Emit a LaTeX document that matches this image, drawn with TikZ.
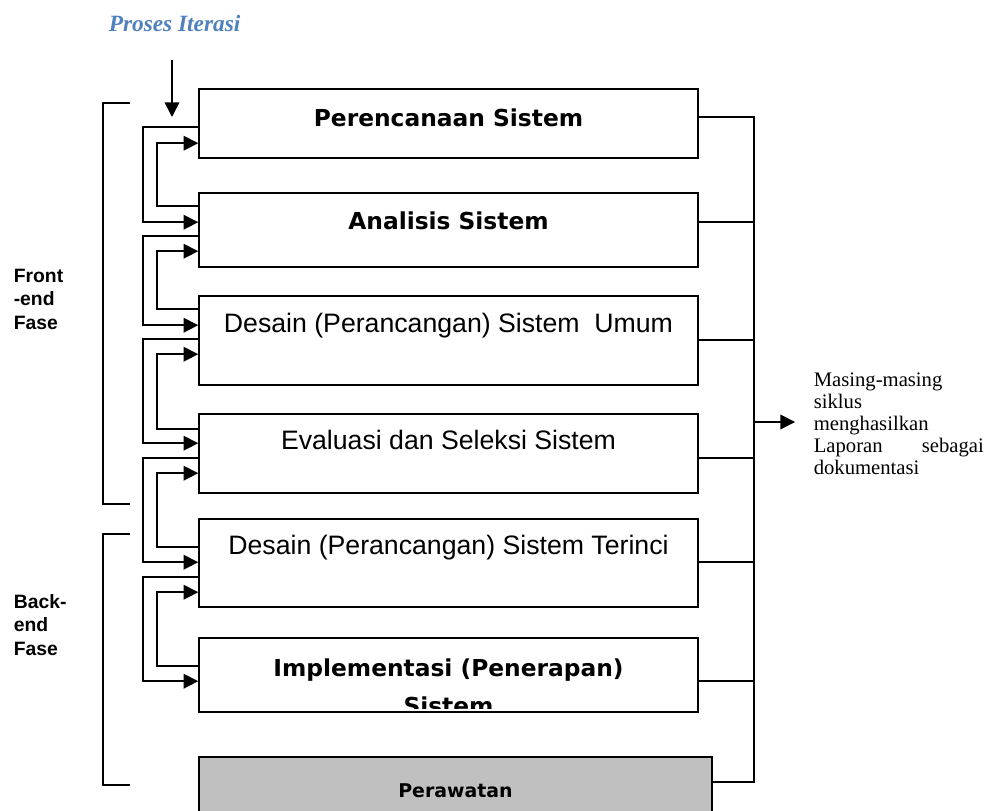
\documentclass[tikz,border=0pt]{standalone}
\usepackage{fontspec}
\setmainfont{Liberation Serif}
\setsansfont{Liberation Sans}
\newfontfamily\boxfont{DejaVu Sans}
\usetikzlibrary{arrows.meta,calc,fit,positioning}
\definecolor{iterblue}{RGB}{79,129,189}
\definecolor{carefill}{RGB}{192,192,192}

\begin{document}
\begin{tikzpicture}[x=0.75pt,y=-0.75pt,line width=1.2pt,inner sep=0pt,
  stage/.style={draw,fill=white},
  head/.style={font=\boxfont\bfseries\fontsize{17.5}{28.5}\selectfont,anchor=base},
  plain/.style={font=\sffamily\fontsize{20}{24}\selectfont,anchor=base},
  side/.style={font=\sffamily\bfseries\fontsize{14.5}{17.6}\selectfont,align=left,anchor=west},
  note/.style={font=\fontsize{15.5}{16.5}\selectfont,text width=127.5pt,align=left,inner xsep=13.5pt,anchor=north west},
  link/.style={-{Triangle[length=11pt,width=11pt]}}]
  \clip (0,0) rectangle (987,810);
  \node [font=\bfseries\itshape\fontsize{17.5}{21}\selectfont,text=iterblue,anchor=base west] (iterasi) at (108,31) {Proses Iterasi};
  \coordinate (iter) at (172,60);
  \draw [link] (iter) -- ++(0,57);
  \node [stage,fit={(199,89) (698,158)}] (plan) {};
  \node [stage,fit={(199,193) (698,267)}] (anal) {};
  \node [stage,fit={(199,296) (698,385)}] (umum) {};
  \node [stage,fit={(199,414) (698,493)}] (eval) {};
  \node [stage,fit={(199,519) (698,607)}] (rinci) {};
  \node [stage,fit={(199,638) (698,712)}] (impl) {};
  \node [stage,fill=carefill,fit={(199,757) (712,830)}] (care) {};
  \node [head] (plantxt) at ($(plan.north)+(0,38)$) {Perencanaan Sistem};
  \node [head] (analtxt) at ($(anal.north)+(0,37)$) {Analisis Sistem};
  \node [plain] (umumtxt) at ($(umum.north)+(0,37)$) {Desain (Perancangan) Sistem\ \ Umum};
  \node [plain] (evaltxt) at ($(eval.north)+(0,36)$) {Evaluasi dan Seleksi Sistem};
  \node [plain] (rincitxt) at ($(rinci.north)+(0,36)$) {Desain (Perancangan) Sistem Terinci};
  \begin{scope}
    \clip (201,640) rectangle (696,708);
    \node [head,align=center,anchor=north] (impltxt) at ($(impl.north)+(0,21)$) {Implementasi (Penerapan)\\Sistem};
  \end{scope}
  \node [head,font=\boxfont\bfseries\fontsize{14.2}{17}\selectfont] (caretxt) at ($(care.north)+(0,41)$) {Perawatan};
  \draw [link] ($(plan.north west)+(0,39)$) -- ++(-55,0) |- ($(anal.north west)+(0,30)$);
  \draw [link] ($(anal.north west)+(0,14)$) -- ++(-41,0) |- ($(plan.north west)+(0,55)$);
  \draw [link] ($(anal.north west)+(0,44)$) -- ++(-55,0) |- ($(umum.north west)+(0,30)$);
  \draw [link] ($(umum.north west)+(0,14)$) -- ++(-41,0) |- ($(anal.north west)+(0,59)$);
  \draw [link] ($(umum.north west)+(0,44)$) -- ++(-55,0) |- ($(eval.north west)+(0,30)$);
  \draw [link] ($(eval.north west)+(0,16)$) -- ++(-41,0) |- ($(umum.north west)+(0,59)$);
  \draw [link] ($(eval.north west)+(0,45)$) -- ++(-55,0) |- ($(rinci.north west)+(0,44)$);
  \draw [link] ($(rinci.north west)+(0,29)$) -- ++(-41,0) |- ($(eval.north west)+(0,60)$);
  \draw [link] ($(rinci.north west)+(0,59)$) -- ++(-55,0) |- ($(impl.north west)+(0,44)$);
  \draw [link] ($(impl.north west)+(0,29)$) -- ++(-41,0) |- ($(rinci.north west)+(0,74)$);
  \draw ($(plan.north east)+(0,29)$) -| ($(care.north east)+(41,26)$) -- ($(care.north east)+(0,26)$);
  \draw ($(anal.north east)+(0,30)$) -- ++(55,0);
  \draw ($(umum.north east)+(0,45)$) -- ++(55,0);
  \draw ($(eval.north east)+(0,45)$) -- ++(55,0);
  \draw ($(rinci.north east)+(0,44)$) -- ++(55,0);
  \draw ($(impl.north east)+(0,44)$) -- ++(55,0);
  \coordinate (tap) at (753,422);
  \node [note] (note) at (795,372) {Masing-masing\\siklus\\menghasilkan\\Laporan\hfill sebagai\\dokumentasi};
  \draw [link] (tap) -- (tap -| note.west);
  \node [side] (front) at (13,299) {Front\\-end\\Fase};
  \node [side] (back) at (13,625) {Back-\\end\\Fase};
  \draw (130,103) -- (103,103) -- (103,504) -- (130,504);
  \draw (130,534) -- (103,534) -- (103,785) -- (130,785);
\end{tikzpicture}
\end{document}
